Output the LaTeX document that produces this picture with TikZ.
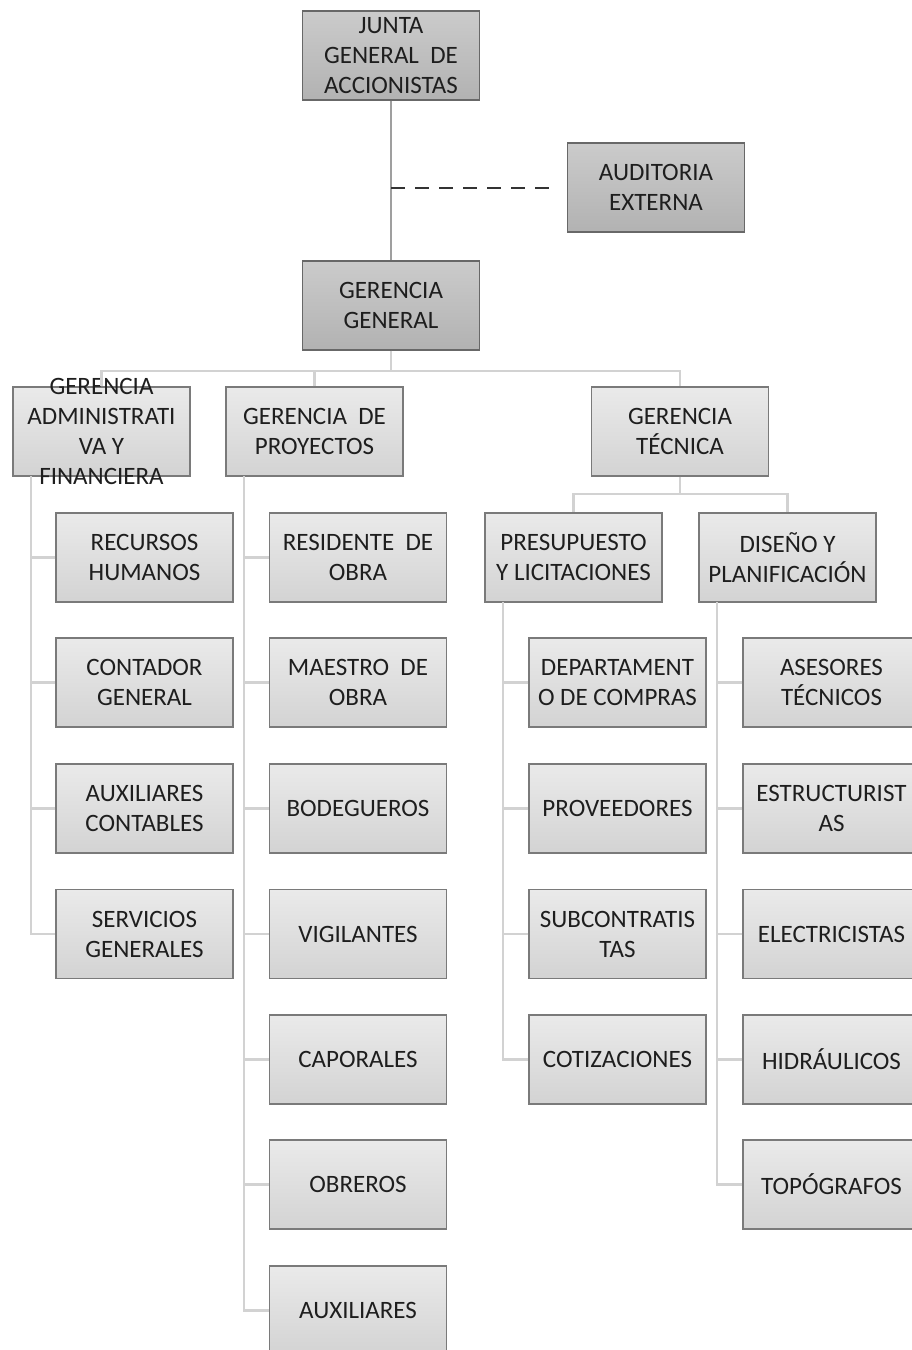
\documentclass[tikz,border=0pt]{standalone}
\usepackage{fontspec}
\setmainfont{Carlito}
\definecolor{txt}{HTML}{1E1E1E}
\definecolor{topA}{HTML}{CBCBCB}
\definecolor{topB}{HTML}{B2B2B2}
\definecolor{lowA}{HTML}{EAEAEA}
\definecolor{lowB}{HTML}{D3D3D3}
\definecolor{bord}{HTML}{7A7A7A}
\definecolor{linec}{HTML}{D2D2D2}
\tikzset{
  base/.style={draw=bord, line width=1.3pt, minimum width=177pt, minimum height=89pt,
    inner sep=0pt, align=center, text=txt, font=\fontsize{25}{30}\selectfont},
  topbox/.style={base, top color=topA, bottom color=topB, draw=bord!85!black},
  lowbox/.style={base, top color=lowA, bottom color=lowB},
  textonly/.style={inner sep=0pt, align=center, text=txt, font=\fontsize{25}{30}\selectfont},
  conn/.style={draw=linec, line width=2.2pt},
  mainconn/.style={draw=gray!75, line width=1.2pt},
  dashconn/.style={draw=black!80, line width=1.8pt, dash pattern=on 14pt off 10pt}
}
\begin{document}
\begin{tikzpicture}[x=1pt,y=-1pt]
\useasboundingbox (0,0) rectangle (911,1350);
% top level
\node[topbox] (jg) at (391,55.5) {JUNTA\\GENERAL\ \ DE\\ACCIONISTAS};
\node[topbox] (ae) at (656,187.5) {AUDITORIA\\EXTERNA};
\node[topbox] (gg) at (391,305.5) {GERENCIA\\GENERAL};
\draw[mainconn] (jg.south) -- (gg.north);
\coordinate (dj) at (391,188);
\coordinate (de) at (554,188);
\draw[dashconn] (dj) -- (de);
% level 2
\node[lowbox] (ga) at (101.5,431.5) {};
\node[textonly] (gatext) at (ga.center) {GERENCIA\\ADMINISTRATI\\VA Y\\FINANCIERA};
\node[lowbox] (gp) at (314.5,431.5) {GERENCIA\ \ DE\\PROYECTOS};
\node[lowbox] (gt) at (680,431.5) {GERENCIA\\TÉCNICA};
\coordinate (bar) at (391,371);
\draw[conn] (gg.south) -- (bar);
\draw[conn] (bar) -| (ga.north);
\draw[conn] (bar) -| (gt.north);
\draw[conn] (gp.north) -- (gp.north |- bar);
% level 3 tecnica
\node[lowbox] (pl) at (573.5,557.5) {PRESUPUESTO\\Y LICITACIONES};
\node[lowbox] (dp) at (787.5,557.5) {DISEÑO Y\\PLANIFICACIÓN};
\coordinate (tbar) at (680,494);
\draw[conn] (gt.south) -- (tbar);
\draw[conn] (tbar) -| (pl.north);
\draw[conn] (tbar) -| (dp.north);
% admin children
\node[lowbox] (rh) at (144.5,557.5) {RECURSOS\\HUMANOS};
\node[lowbox] (cg) at (144.5,682.5) {CONTADOR\\GENERAL};
\node[lowbox] (ac) at (144.5,808.5) {AUXILIARES\\CONTABLES};
\node[lowbox] (sg) at (144.5,934) {SERVICIOS\\GENERALES};
\coordinate (ta) at (31,476);
\draw[conn] (ta) |- (sg.west);
\foreach \n in {rh,cg,ac} \draw[conn] (\n.west) -- (\n.west -| ta);
% proyectos children
\node[lowbox] (ro) at (358,557.5) {RESIDENTE\ \ DE\\OBRA};
\node[lowbox] (mo) at (358,682.5) {MAESTRO\ \ DE\\OBRA};
\node[lowbox] (bo) at (358,808.5) {BODEGUEROS};
\node[lowbox] (vi) at (358,934) {VIGILANTES};
\node[lowbox] (ca) at (358,1059.5) {CAPORALES};
\node[lowbox] (ob) at (358,1184.5) {OBREROS};
\node[lowbox] (au) at (358,1310.5) {AUXILIARES};
\coordinate (tp) at (244,476);
\draw[conn] (tp) |- (au.west);
\foreach \n in {ro,mo,bo,vi,ca,ob} \draw[conn] (\n.west) -- (\n.west -| tp);
% presupuesto children
\node[lowbox] (dc) at (617.5,682.5) {DEPARTAMENT\\O DE COMPRAS};
\node[lowbox] (pr) at (617.5,808.5) {PROVEEDORES};
\node[lowbox] (sc) at (617.5,934) {SUBCONTRATIS\\TAS};
\node[lowbox] (co) at (617.5,1059.5) {COTIZACIONES};
\coordinate (tl) at (503,602);
\draw[conn] (tl) |- (co.west);
\foreach \n in {dc,pr,sc} \draw[conn] (\n.west) -- (\n.west -| tl);
% diseno children
\node[lowbox] (at) at (831.5,682.5) {ASESORES\\TÉCNICOS};
\node[lowbox] (es) at (831.5,808.5) {ESTRUCTURIST\\AS};
\node[lowbox] (el) at (831.5,934) {ELECTRICISTAS};
\node[lowbox] (hi) at (831.5,1059.5) {HIDRÁULICOS};
\node[lowbox] (to) at (831.5,1184.5) {TOPÓGRAFOS};
\coordinate (td) at (717,602);
\draw[conn] (td) |- (to.west);
\foreach \n in {at,es,el,hi} \draw[conn] (\n.west) -- (\n.west -| td);
\end{tikzpicture}
\end{document}
